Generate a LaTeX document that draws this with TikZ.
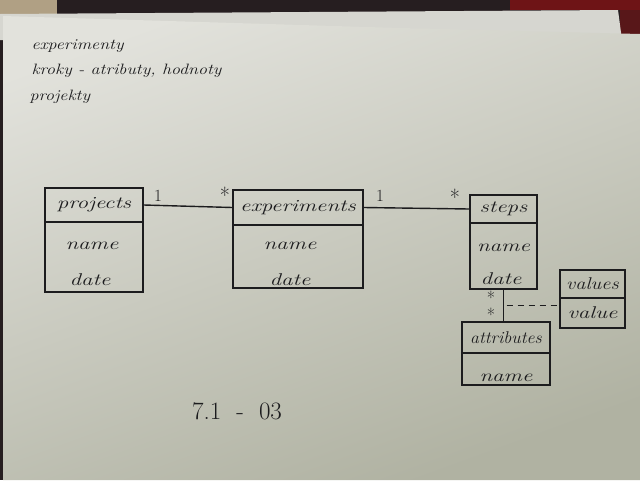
\documentclass[tikz,border=0pt]{standalone}
\usepackage{graphicx}
\usetikzlibrary{calc}
\definecolor{ink}{RGB}{28,28,30}
\definecolor{paperA}{RGB}{226,226,220}
\definecolor{paperB}{RGB}{176,178,162}
\definecolor{backsheet}{RGB}{214,214,208}
\definecolor{bgdark}{RGB}{38,30,32}
\definecolor{wood}{RGB}{176,160,132}
\definecolor{redcloth}{RGB}{110,20,22}
\newcommand{\hw}[1]{\scalebox{1.35}[1.0]{#1}}
\newcommand{\hwn}[1]{\scalebox{1.2}[1.0]{#1}}
\tikzset{
  box/.style={draw=ink, line width=1.5pt, inner sep=0pt},
  hand/.style={font=\fontsize{17}{19}\selectfont\itshape, text=ink},
  note/.style={font=\fontsize{15}{18}\selectfont\itshape, text=ink, anchor=west},
  mult/.style={font=\fontsize{17}{19}\selectfont, text=ink},
  star/.style={font=\fontsize{22}{24}\selectfont, text=ink, inner sep=0pt},
  smallstar/.style={font=\fontsize{18}{20}\selectfont, text=ink, inner sep=0pt},
  link/.style={draw=ink, line width=1.4pt},
}
\begin{document}
\begin{tikzpicture}[x=1pt,y=-1pt]
\useasboundingbox (0,0) rectangle (640,480);
% photo background
\fill[bgdark] (0,0) rectangle (640,480);
\fill[wood] (0,0) rectangle (57,14);
\fill[redcloth] (510,0) rectangle (640,10);
\fill[redcloth!70!bgdark] (620,10) rectangle (640,34);
\fill[backsheet] (0,14) -- (618,10) -- (622,40) -- (0,40) -- cycle;
\begin{scope}
\clip (3,16) -- (400,28) -- (640,34) -- (640,480) -- (3,480) -- cycle;
\shade[shading=axis, top color=paperA, bottom color=paperB, shading angle=20] (0,0) rectangle (640,480);
\end{scope}

% notes
\node[note] (n1) at (28,46) {\hwn{experimenty}};
\node[note] (n2) at (28,71) {\hwn{kroky - atributy, hodnoty}};
\node[note] (n3) at (26,97) {\hwn{projekty}};

% projects
\node[box, hand, minimum width=98pt, minimum height=34pt] (projH) at (94,205) {\hw{projects}};
\node[box, minimum width=98pt, minimum height=70pt] (projB) at (94,257) {};
\node[hand] (projN) at (92,246) {\hw{name}};
\node[hand] (projD) at (90,280) {\hw{date}};

% experiments
\node[box, hand, minimum width=130pt, minimum height=35pt] (expH) at (298,207.5) {\hw{experiments}};
\node[box, minimum width=130pt, minimum height=63pt] (expB) at (298,256.5) {};
\node[hand] (expN) at (290,246) {\hw{name}};
\node[hand] (expD) at (290,280) {\hw{date}};

% steps
\node[box, hand, minimum width=67pt, minimum height=28pt] (stepsH) at (503.5,209) {\hw{steps}};
\node[box, minimum width=67pt, minimum height=66pt] (stepsB) at (503.5,256) {};
\node[hand] (stepsN) at (503.5,248) {\hw{name}};
\node[hand] (stepsD) at (501,279) {\hw{date}};

% values
\node[box, hand, minimum width=65pt, minimum height=28pt] (valH) at (592.5,284) {\hwn{values}};
\node[box, hand, minimum width=65pt, minimum height=30pt] (valB) at (592.5,313) {\hw{value}};

% attributes
\node[box, hand, minimum width=88pt, minimum height=31pt] (attrH) at (506,337.5) {\scalebox{1.05}[1.0]{attributes}};
\node[box, minimum width=88pt, minimum height=32pt] (attrB) at (506,369) {};
\node[hand] (attrN) at (506,378) {\hw{name}};

% connectors
\draw[link] (projH.east) -- (expH.west);
\draw[link] (expH.east) -- (stepsH.west);
\draw[link] (stepsB.south) -- (stepsB.south |- attrH.north);
\coordinate (vlink) at ($(stepsB.south)!0.5!(stepsB.south |- attrH.north)$);
\draw[link, dashed, dash pattern=on 6pt off 5pt] ([xshift=3pt]vlink) -- (vlink -| valB.west);

% multiplicities
\node[mult] (m1) at (158,196) {1};
\node[star] (m2) at (225,195) {*};
\node[mult] (m3) at (380,196) {1};
\node[star] (m4) at (455,197) {*};
\node[smallstar] (m5) at (491,298) {*};
\node[smallstar] (m6) at (491,315) {*};

% date
\node[font=\fontsize{25}{27}\selectfont, text=ink] (stamp) at (237,411) {7.1 \ - \ 03};
\end{tikzpicture}
\end{document}
